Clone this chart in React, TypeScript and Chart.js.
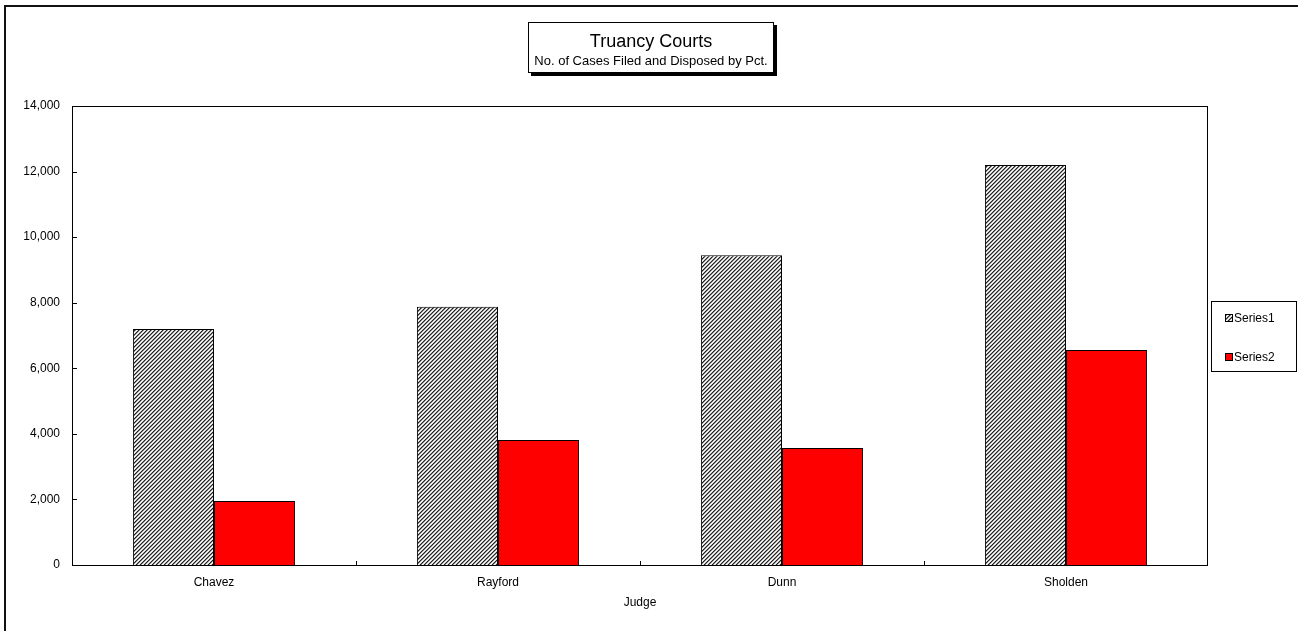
import React, { useEffect, useRef } from 'react';
import { Chart, registerables } from 'chart.js';

Chart.register(...registerables);

const categories = ['Chavez', 'Rayford', 'Dunn', 'Sholden'];
const series1 = [7200, 7880, 9450, 12200];
const series2 = [1950, 3810, 3570, 6560];
const seriesNames = ['Series1', 'Series2'];
const yMin = 0;
const yMax = 14000;
const yStep = 2000;
const titleText = 'Truancy Courts';
const subtitleText = 'No. of Cases Filed and Disposed by Pct.';
const xAxisTitle = 'Judge';

const W = 1298;
const H = 631;
const FONT = 'Liberation Sans, Arial, sans-serif';

function makeHatch(ctx: CanvasRenderingContext2D): CanvasPattern | string {
  const c = document.createElement('canvas');
  c.width = 4;
  c.height = 4;
  const p = c.getContext('2d');
  if (!p) return '#888';
  const shades = ['#222222', '#8a8a8a', '#ffffff', '#d0d0d0'];
  for (let x = 0; x < 4; x++) {
    for (let y = 0; y < 4; y++) {
      p.fillStyle = shades[(x + y) % 4];
      p.fillRect(x, y, 1, 1);
    }
  }
  return ctx.createPattern(c, 'repeat') || '#888';
}

export default function App() {
  const ref = useRef<HTMLCanvasElement | null>(null);

  useEffect(() => {
    const canvas = ref.current;
    if (!canvas) return;
    const ctx0 = canvas.getContext('2d');
    if (!ctx0) return;
    const hatch = makeHatch(ctx0);

    const decor = {
      id: 'decor',
      beforeDraw(chart: any) {
        const ctx = chart.ctx as CanvasRenderingContext2D;
        ctx.save();
        ctx.fillStyle = '#ffffff';
        ctx.fillRect(0, 0, W, H);
        ctx.fillStyle = '#111111';
        ctx.fillRect(4, 5, 2, H - 5);
        ctx.fillRect(4, 5, W - 4, 2);
        ctx.restore();
      },
      afterDraw(chart: any) {
        const ctx = chart.ctx as CanvasRenderingContext2D;
        const { left, right, top, bottom } = chart.chartArea;
        ctx.save();
        ctx.strokeStyle = '#000';
        ctx.lineWidth = 1;
        ctx.strokeRect(left + 0.5, top + 0.5, right - left - 1, bottom - top);
        const ys = chart.scales.y;
        ys.ticks.forEach((t: any) => {
          const py = Math.round(ys.getPixelForValue(t.value)) + 0.5;
          ctx.beginPath();
          ctx.moveTo(left, py);
          ctx.lineTo(left + 5, py);
          ctx.stroke();
        });
        const xs = chart.scales.x;
        for (let i = 1; i < categories.length; i++) {
          const px = Math.round((xs.getPixelForTick(i - 1) + xs.getPixelForTick(i)) / 2) + 0.5;
          ctx.beginPath();
          ctx.moveTo(px, bottom);
          ctx.lineTo(px, bottom - 4);
          ctx.stroke();
        }
        // title box with shadow
        const bx = 528, by = 22, bw = 246, bh = 51;
        ctx.fillStyle = '#000';
        ctx.fillRect(bx + 3, by + 3, bw, bh);
        ctx.fillStyle = '#fff';
        ctx.fillRect(bx, by, bw, bh);
        ctx.strokeStyle = '#000';
        ctx.strokeRect(bx + 0.5, by + 0.5, bw - 1, bh - 1);
        ctx.fillStyle = '#000';
        ctx.textAlign = 'center';
        ctx.textBaseline = 'middle';
        ctx.font = `18px ${FONT}`;
        ctx.fillText(titleText, bx + bw / 2, 42);
        ctx.font = `13px ${FONT}`;
        ctx.fillText(subtitleText, bx + bw / 2, 61);
        // legend
        const lx = 1211, ly = 301, lw = 86, lh = 71;
        ctx.fillStyle = '#fff';
        ctx.fillRect(lx, ly, lw, lh);
        ctx.strokeStyle = '#000';
        ctx.strokeRect(lx + 0.5, ly + 0.5, lw - 1, lh - 1);
        const fills = [hatch, '#ff0000'];
        const rowsY = [318, 357];
        ctx.textAlign = 'left';
        ctx.font = `12px ${FONT}`;
        for (let i = 0; i < seriesNames.length; i++) {
          const sy = rowsY[i];
          ctx.fillStyle = fills[i] as any;
          ctx.fillRect(1225, sy - 4, 8, 8);
          ctx.strokeStyle = '#000';
          ctx.strokeRect(1225.5, sy - 3.5, 7, 7);
          ctx.fillStyle = '#000';
          ctx.fillText(seriesNames[i], 1234, sy + 1);
        }
        ctx.restore();
      },
    };

    const font = { family: FONT, size: 12 };
    const chart = new Chart(canvas, {
      type: 'bar',
      data: {
        labels: categories,
        datasets: [
          {
            label: seriesNames[0],
            data: series1,
            backgroundColor: hatch as any,
            borderColor: '#000',
            borderWidth: 1,
            categoryPercentage: 0.571,
            barPercentage: 1,
          },
          {
            label: seriesNames[1],
            data: series2,
            backgroundColor: '#ff0000',
            borderColor: '#000',
            borderWidth: 1,
            categoryPercentage: 0.571,
            barPercentage: 1,
          },
        ],
      },
      options: {
        animation: false,
        responsive: false,
        maintainAspectRatio: false,
        layout: { padding: { left: 0, top: 106, right: W - 1208, bottom: 0 } },
        plugins: {
          legend: { display: false },
          title: { display: false },
          tooltip: { enabled: false },
        },
        scales: {
          x: {
            grid: { display: false, drawTicks: false },
            border: { display: false },
            ticks: { font, color: '#000', padding: 10 },
            title: {
              display: true,
              text: xAxisTitle,
              font,
              color: '#000',
              padding: { top: 0, bottom: 21 },
            },
            afterFit(s: any) {
              s.height = H - 565;
            },
          },
          y: {
            min: yMin,
            max: yMax,
            grid: { display: false, drawTicks: false },
            border: { display: false },
            ticks: {
              stepSize: yStep,
              font,
              color: '#000',
              padding: 12,
              callback: (v: any) => Number(v).toLocaleString('en-US'),
            },
            afterFit(s: any) {
              s.width = 72;
            },
          },
        },
      },
      plugins: [decor],
    });
    return () => chart.destroy();
  }, []);

  return (
    <div style={{ position: 'absolute', left: 0, top: 0, width: W, height: H }}>
      <canvas ref={ref} width={W} height={H} style={{ display: 'block', width: W, height: H }} />
    </div>
  );
}
